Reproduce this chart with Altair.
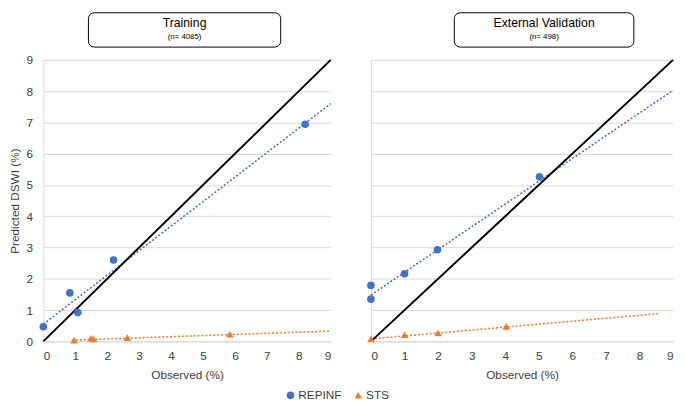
import altair as alt
import pandas as pd

FONT = "Liberation Sans"
BLUE = "#4472C4"
ORANGE = "#ED7D31"
TEXT = "#404040"
GRID = "#d9d9d9"

series_names = ["REPINF", "STS"]
ticks = [0, 1, 2, 3, 4, 5, 6, 7, 8, 9]

panel_titles = ["Training", "External Validation"]
panel_counts = ["(n= 4085)", "(n= 498)"]

# Training
tr_rep_x = [0.0, 0.83, 1.08, 2.2, 8.2]
tr_rep_y = [0.47, 1.55, 0.92, 2.6, 6.94]
tr_sts_x = [0.96, 1.49, 1.57, 2.63, 5.84]
tr_sts_y = [0.04, 0.10, 0.08, 0.12, 0.23]
tr_rep_trend_x = [0.0, 9.0]
tr_rep_trend_y = [0.55, 7.6]
tr_sts_trend_x = [0.9, 9.0]
tr_sts_trend_y = [0.04, 0.33]

# External validation
ev_rep_x = [0.0, 0.0, 1.0, 1.98, 5.02]
ev_rep_y = [1.79, 1.35, 2.16, 2.93, 5.26]
ev_sts_x = [0.0, 1.0, 2.0, 4.03]
ev_sts_y = [0.08, 0.21, 0.27, 0.48]
ev_rep_trend_x = [0.0, 9.0]
ev_rep_trend_y = [1.48, 8.03]
ev_sts_trend_x = [0.0, 8.6]
ev_sts_trend_y = [0.08, 0.89]

identity_x = [0, 9]
identity_y = [0, 9]


def points_df(rx, ry, sx, sy):
    return pd.DataFrame({
        "obs": rx + sx,
        "pred": ry + sy,
        "series": [series_names[0]] * len(rx) + [series_names[1]] * len(sx),
    })


def trend_df(rx, ry, sx, sy):
    return pd.DataFrame({
        "obs": rx + sx,
        "pred": ry + sy,
        "series": [series_names[0]] * len(rx) + [series_names[1]] * len(sx),
        "hex": [BLUE] * len(rx) + [ORANGE] * len(sx),
    })


def panel(idx, pts, trd, width, box_x, box_x2, show_y):
    xaxis = alt.Axis(values=ticks, format="d", grid=False, title="Observed (%)", labelOverlap=False)
    xenc = alt.X("obs:Q", scale=alt.Scale(domain=[0, 9], nice=False), axis=xaxis)
    if show_y:
        yaxis = alt.Axis(values=ticks, format="d", title="Predicted DSWI (%)", labelOverlap=False)
    else:
        yaxis = alt.Axis(values=ticks, labels=False, title=None)
    yenc = alt.Y("pred:Q", scale=alt.Scale(domain=[0, 9], nice=False), axis=yaxis)

    trend = alt.Chart(trd).mark_line(strokeDash=[2, 2], strokeWidth=1.6).encode(
        x=xenc, y=yenc,
        color=alt.Color("hex:N", scale=None),
        detail="series:N",
    )
    ident = alt.Chart(pd.DataFrame({"obs": identity_x, "pred": identity_y})).mark_line(
        color="black", strokeWidth=2).encode(x=xenc, y=yenc)

    leg = alt.Legend(orient="none", legendX=246, legendY=336, direction="horizontal",
                     title=None, labelFontSize=12, labelColor=TEXT, labelFont=FONT,
                     symbolSize=60, columnPadding=10, labelOffset=2)
    pts_layer = alt.Chart(pts).mark_point(filled=True, size=60, opacity=1).encode(
        x=xenc, y=yenc,
        color=alt.Color("series:N", scale=alt.Scale(domain=series_names, range=[BLUE, ORANGE]), legend=leg),
        shape=alt.Shape("series:N", scale=alt.Scale(domain=series_names, range=["circle", "triangle-up"]), legend=leg),
    )

    one = pd.DataFrame({"title": [panel_titles[idx]], "count": [panel_counts[idx]]})
    box = alt.Chart(one).mark_rect(cornerRadius=6, fill="white", stroke="black", strokeWidth=1).encode(
        x=alt.value(box_x), x2=alt.value(box_x2), y=alt.value(-48), y2=alt.value(-13))
    cx = (box_x + box_x2) / 2
    t1 = alt.Chart(one).mark_text(font=FONT, fontSize=12.5, color="black", baseline="middle").encode(
        text="title:N", x=alt.value(cx), y=alt.value(-37))
    t2 = alt.Chart(one).mark_text(font=FONT, fontSize=8, color="black", baseline="middle").encode(
        text="count:N", x=alt.value(cx), y=alt.value(-23))

    return alt.layer(trend, ident, pts_layer, box, t1, t2).properties(width=width, height=287)


left = panel(0, points_df(tr_rep_x, tr_rep_y, tr_sts_x, tr_sts_y),
             trend_df(tr_rep_trend_x, tr_rep_trend_y, tr_sts_trend_x, tr_sts_trend_y),
             293, 46, 242, True)
right = panel(1, points_df(ev_rep_x, ev_rep_y, ev_sts_x, ev_sts_y),
              trend_df(ev_rep_trend_x, ev_rep_trend_y, ev_sts_trend_x, ev_sts_trend_y),
              308, 85, 268, False)

chart = alt.hconcat(left, right, spacing=33).resolve_scale(
    color="shared", shape="shared"
).properties(
    padding={"left": 0, "top": 0, "right": 0, "bottom": 0}
).configure_view(stroke=None).configure_axis(
    ticks=False, labelFont=FONT, titleFont=FONT, labelFontSize=12, titleFontSize=12,
    labelColor=TEXT, titleColor=TEXT, titleFontWeight="normal",
    gridColor=GRID, domainColor=GRID, domainWidth=1, labelPadding=9,
).configure_axisY(titlePadding=5, labelPadding=11).configure_axisX(titlePadding=9)

chart.save("out.html", embed_options={"renderer": "svg", "actions": False})
